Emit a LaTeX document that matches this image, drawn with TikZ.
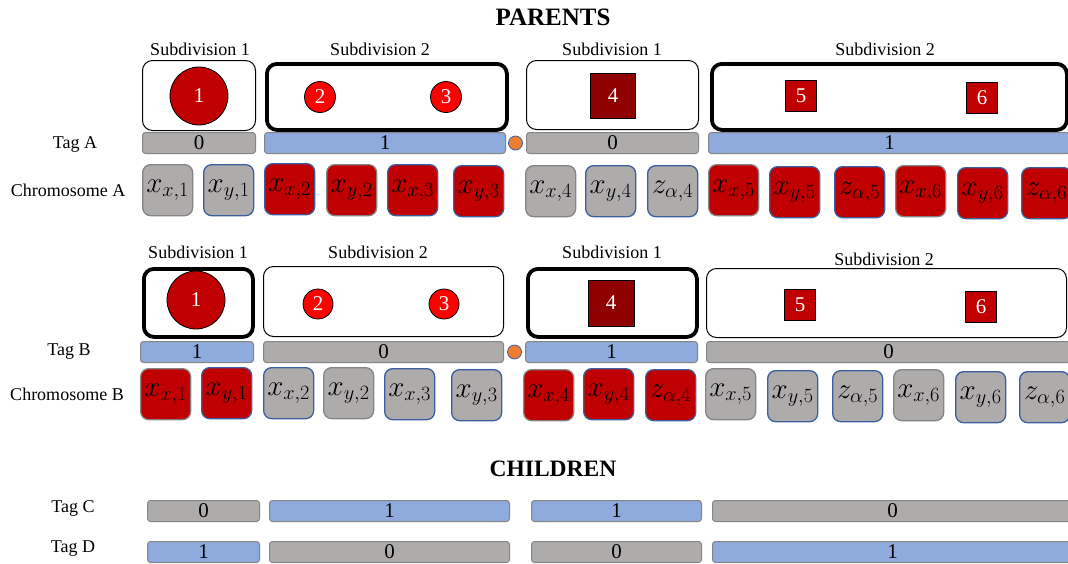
\RequirePackage{fix-cm}
\documentclass[tikz,border=0pt]{standalone}
\usepackage{fontspec}
\setmainfont{Liberation Serif}
\definecolor{cgrey}{HTML}{AEABAB}
\definecolor{cred}{HTML}{C00000}
\definecolor{cbright}{HTML}{FF0000}
\definecolor{cdark}{HTML}{8F0000}
\definecolor{ctag}{HTML}{8FAADC}
\definecolor{cblue}{HTML}{3A5FA0}
\definecolor{cgb}{HTML}{858585}
\definecolor{corange}{HTML}{ED7D31}
\newcommand\lblfont{\fontsize{18}{20}\selectfont}
\newcommand\tagfont{\fontsize{21}{22}\selectfont}
\newcommand\numfont{\fontsize{21}{22}\selectfont}
\newcommand\mathfnt{\fontsize{29}{30}\selectfont}
\tikzset{
  lbl/.style={font=\lblfont, inner sep=0pt},
  chrbox/.style={rounded corners=8pt, minimum width=50pt, minimum height=51pt, inner sep=0pt, line width=1.3pt, anchor=north west, font=\mathfnt},
  tagbar/.style={draw=cgb, rounded corners=3pt, minimum height=21pt, inner sep=0pt, anchor=north west, font=\tagfont, line width=1pt},
  tz/.style={tagbar, fill=cgrey},
  to/.style={tagbar, fill=ctag},
  subbox/.style={draw=black, rounded corners=10pt, fill=white, line width=1pt, anchor=north west, inner sep=0pt},
  thickbox/.style={subbox, line width=3.8pt},
  gene/.style={draw=black, line width=0.8pt, inner sep=0pt, text=white, font=\numfont},
  dot/.style={circle, fill=corange, draw=cblue, line width=0.8pt, minimum size=14pt, inner sep=0pt},
}
% name, x, y, fill, border, math
\newcommand\chrnode[6]{\node[chrbox, fill=#4, draw=#5] (#1) at (#2,#3) {\raisebox{-3pt}{$#6$}};}
\begin{document}
\begin{tikzpicture}[x=1pt,y=-1pt]
\clip (0,0) rectangle (1068,563);
\fill[white] (0,0) rectangle (1068,563);

% ---------- PARENTS ----------
\node[font=\fontsize{25}{27}\selectfont\bfseries, inner sep=0pt] (parents) at (553,17) {PARENTS};

% Row A subdivision labels
\node[lbl] (sa1) at (200,49) {Subdivision 1};
\node[lbl] (sa2) at (380,49) {Subdivision 2};
\node[lbl] (sa3) at (612,49) {Subdivision 1};
\node[lbl] (sa4) at (885,49) {Subdivision 2};

% Row A boxes
\node[subbox, minimum width=113pt, minimum height=70pt] (ba1) at (142,60) {};
\node[thickbox, minimum width=240pt, minimum height=66pt] (ba2) at (265,62) {};
\node[subbox, minimum width=172pt, minimum height=69pt] (ba3) at (526,60) {};
\node[thickbox, minimum width=355pt, minimum height=66pt] (ba4) at (710,62) {};

\node[gene, circle, fill=cred, minimum size=58pt] (ga1) at (199,96) {1};
\node[gene, circle, fill=cbright, minimum size=31pt] (ga2) at (320,97) {2};
\node[gene, circle, fill=cbright, minimum size=31pt] (ga3) at (446,97) {3};
\node[gene, fill=cdark, minimum size=45pt] (ga4) at (613,96) {4};
\node[gene, fill=cred, minimum size=31pt] (ga5) at (801,96) {5};
\node[gene, fill=cred, minimum size=31pt] (ga6) at (982,98) {6};

% Tag A
\node[lbl] (tagA) at (75,144) {Tag A};
\node[tz, minimum width=113pt] (ta1) at (142,132) {0};
\node[to, minimum width=241pt] (ta2) at (264,132) {1};
\node[dot] (dA) at (515.5,143) {};
\node[tz, minimum width=172pt] (ta3) at (526,132) {0};
\node[to, minimum width=362pt] (ta4) at (708,132) {1};

% Chromosome A
\node[lbl] (chrA) at (68,190) {Chromosome A};
\chrnode{a1}{142}{164}{cgrey}{cgb}{x_{x,1}}
\chrnode{a2}{203}{164}{cgrey}{cblue}{x_{y,1}}
\chrnode{a3}{264}{163}{cred}{cblue}{x_{x,2}}
\chrnode{a4}{326}{164}{cred}{cgb}{x_{y,2}}
\chrnode{a5}{387}{164}{cred}{cblue}{x_{x,3}}
\chrnode{a6}{453}{165}{cred}{cblue}{x_{y,3}}
\chrnode{a7}{525}{165}{cgrey}{cgb}{x_{x,4}}
\chrnode{a8}{585}{165}{cgrey}{cblue}{x_{y,4}}
\chrnode{a9}{647}{165}{cgrey}{cblue}{z_{\alpha,4}}
\chrnode{a10}{708}{164}{cred}{cgb}{x_{x,5}}
\chrnode{a11}{769}{166}{cred}{cblue}{x_{y,5}}
\chrnode{a12}{834}{166}{cred}{cblue}{z_{\alpha,5}}
\chrnode{a13}{895}{165}{cred}{cgb}{x_{x,6}}
\chrnode{a14}{957}{167}{cred}{cblue}{x_{y,6}}
\chrnode{a15}{1021}{167}{cred}{cblue}{z_{\alpha,6}}

% Row B subdivision labels
\node[lbl] (sb1) at (198,252) {Subdivision 1};
\node[lbl] (sb2) at (378,252) {Subdivision 2};
\node[lbl] (sb3) at (612,252) {Subdivision 1};
\node[lbl] (sb4) at (884,259) {Subdivision 2};

% Row B boxes
\node[thickbox, minimum width=109pt, minimum height=68pt] (bb1) at (142,267) {};
\node[subbox, minimum width=240pt, minimum height=70pt] (bb2) at (263,266) {};
\node[thickbox, minimum width=169pt, minimum height=68pt] (bb3) at (526,267) {};
\node[subbox, minimum width=360pt, minimum height=69pt] (bb4) at (706,268) {};

\node[gene, circle, fill=cred, minimum size=58pt] (gb1) at (196,300) {1};
\node[gene, circle, fill=cbright, minimum size=30pt] (gb2) at (318,304) {2};
\node[gene, circle, fill=cbright, minimum size=30pt] (gb3) at (444,304) {3};
\node[gene, fill=cdark, minimum size=46pt] (gb4) at (611,303) {4};
\node[gene, fill=cred, minimum size=31pt] (gb5) at (800,305) {5};
\node[gene, fill=cred, minimum size=31pt] (gb6) at (981,307) {6};

% Tag B
\node[lbl] (tagB) at (69,352) {Tag B};
\node[to, minimum width=113pt] (tb1) at (140,341) {1};
\node[tz, minimum width=240pt] (tb2) at (263,341) {0};
\node[dot] (dB) at (514.5,352) {};
\node[to, minimum width=172pt] (tb3) at (525,341) {1};
\node[tz, minimum width=364pt] (tb4) at (706,341) {0};

% Chromosome B
\node[lbl] (chrB) at (67,394) {Chromosome B};
\chrnode{b1}{140}{368}{cred}{cgb}{x_{x,1}}
\chrnode{b2}{201}{367}{cred}{cblue}{x_{y,1}}
\chrnode{b3}{263}{367}{cgrey}{cblue}{x_{x,2}}
\chrnode{b4}{323}{367}{cgrey}{cgb}{x_{y,2}}
\chrnode{b5}{384}{368}{cgrey}{cblue}{x_{x,3}}
\chrnode{b6}{451}{369}{cgrey}{cblue}{x_{y,3}}
\chrnode{b7}{523}{369}{cred}{cgb}{x_{x,4}}
\chrnode{b8}{583}{368}{cred}{cblue}{x_{y,4}}
\chrnode{b9}{645}{369}{cred}{cblue}{z_{\alpha,4}}
\chrnode{b10}{705}{368}{cgrey}{cgb}{x_{x,5}}
\chrnode{b11}{767}{370}{cgrey}{cblue}{x_{y,5}}
\chrnode{b12}{832}{370}{cgrey}{cblue}{z_{\alpha,5}}
\chrnode{b13}{893}{369}{cgrey}{cgb}{x_{x,6}}
\chrnode{b14}{955}{371}{cgrey}{cblue}{x_{y,6}}
\chrnode{b15}{1019}{371}{cgrey}{cblue}{z_{\alpha,6}}

% ---------- CHILDREN ----------
\node[font=\fontsize{23.5}{25}\selectfont\bfseries, inner sep=0pt] (children) at (553,469) {CHILDREN};

\node[lbl] (tagC) at (73,508) {Tag C};
\node[tz, minimum width=112pt] (tc1) at (147,500) {0};
\node[to, minimum width=240pt] (tc2) at (269,500) {1};
\node[to, minimum width=170pt] (tc3) at (531,500) {1};
\node[tz, minimum width=360pt] (tc4) at (712,500) {0};

\node[lbl] (tagD) at (73,549) {Tag D};
\node[to, minimum width=112pt] (td1) at (147,541) {1};
\node[tz, minimum width=240pt] (td2) at (269,541) {0};
\node[tz, minimum width=170pt] (td3) at (531,541) {0};
\node[to, minimum width=360pt] (td4) at (712,541) {1};
\end{tikzpicture}
\end{document}
